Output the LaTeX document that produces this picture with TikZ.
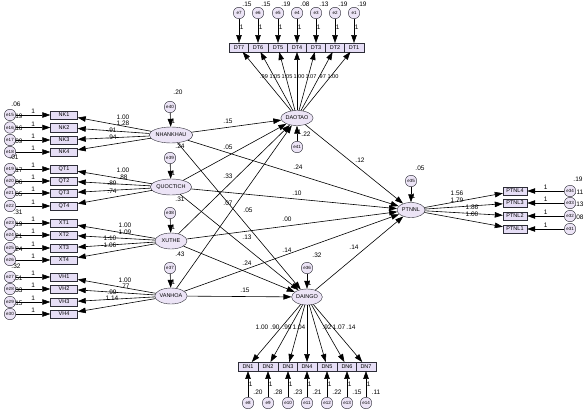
\documentclass[tikz,border=0pt]{standalone}
\usepackage{fontspec}
\setmainfont{Liberation Sans}
\usetikzlibrary{arrows.meta, shapes.geometric}

\definecolor{boxfill}{RGB}{230,222,246}
\definecolor{latfill}{RGB}{236,228,246}
\definecolor{edgegray}{RGB}{45,45,55}

\begin{document}
\begin{tikzpicture}[
    x=1pt, y=-1pt,
    lbl/.style={
        font=\fontsize{6.5}{7}\selectfont,
        inner sep=0pt
    },
    ind/.style={
        draw=edgegray,
        fill=boxfill,
        minimum width=27pt,
        minimum height=8.5pt,
        inner sep=0pt,
        font=\fontsize{5.5}{6}\selectfont
    },
    lat/.style={
        draw=edgegray,
        ellipse,
        fill=latfill,
        minimum width=32pt,
        minimum height=16pt,
        inner sep=0pt,
        font=\fontsize{5.5}{6}\selectfont
    },
    err/.style={
        draw=edgegray,
        circle,
        fill=latfill,
        minimum size=11.5pt,
        inner sep=0pt,
        font=\fontsize{4.5}{5}\selectfont
    },
    arr/.style={-{Triangle[length=8pt,width=5.5pt]}, line width=0.6pt}
]
\useasboundingbox (0,0) rectangle (585,414);

% Latent factors
\node[lat] (nhankhau) at (171,135) {NHANKHAU};
\node[lat] (quoctich) at (171,187) {QUOCTICH};
\node[lat] (xuthe) at (171,241) {XUTHE};
\node[lat] (vanhoa) at (171,296) {VANHOA};
\node[lat, minimum width=29pt, minimum height=15pt] (daotao) at (297,118) {DAOTAO};
\node[lat, minimum width=30pt] (daingo) at (307,297) {DAINGO};
\node[lat, minimum width=28pt, minimum height=15pt] (ptnnl) at (411,210) {PTNNL};

% Residuals of latent factors
\node[err] (e40) at (170,107) {e40};
\node[err] (e39) at (170,158) {e39};
\node[err] (e38) at (170,213) {e38};
\node[err] (e37) at (170,268) {e37};
\node[err] (e41) at (297,147) {e41};
\node[err] (e36) at (307,268) {e36};
\node[err] (e35) at (411,181) {e35};

\draw[arr] (e40) -- node[lbl, right=0.5pt, pos=.6]{1} (nhankhau);
\draw[arr] (e39) -- node[lbl, right=0.5pt, pos=.6]{1} (quoctich);
\draw[arr] (e38) -- node[lbl, right=0.5pt, pos=.6]{1} (xuthe);
\draw[arr] (e37) -- node[lbl, right=0.5pt, pos=.6]{1} (vanhoa);
\draw[arr] (e41) -- node[lbl, right=0.5pt, pos=.6]{1} (daotao);
\draw[arr] (e36) -- node[lbl, right=0.5pt, pos=.6]{1} (daingo);
\draw[arr] (e35) -- node[lbl, right=0.5pt, pos=.6]{1} (ptnnl);

% Left indicators
\foreach \nm/\lb/\en/\lt/\yy/\vv/\vx/\vy/\ld/\lx/\ly in {
    nk1/NK1/15/nhankhau/115/.19/18/116/1.00/123/117,
    nk2/NK2/16/nhankhau/127.5/.16/18/128.5/1.28/123/123,
    nk3/NK3/17/nhankhau/140/.09/18/141/.91/112/130,
    nk4/NK4/18/nhankhau/152/.01/14/157.5/.94/112/137,
    qt1/QT1/19/quoctich/169/.17/18/170/1.00/123/170,
    qt2/QT2/20/quoctich/181/.06/18/182/.88/123/177,
    qt3/QT3/21/quoctich/193/.05/18/194/.89/112/183,
    qt4/QT4/22/quoctich/206/.31/18/212/.74/112/191,
    xt1/XT1/23/xuthe/223/.19/18/224/1.00/125/225,
    xt2/XT2/24/xuthe/235/.21/18/236/1.09/125/232,
    xt3/XT3/25/xuthe/248/.24/18/249/1.10/110/238,
    xt4/XT4/26/xuthe/260/.32/16/266/1.06/110/245,
    vh1/VH1/27/vanhoa/277/.51/18/278/1.00/125/280,
    vh2/VH2/28/vanhoa/289/.33/18/290/.77/125/286,
    vh3/VH3/29/vanhoa/302/.15/18/303/.99/112/292,
    vh4/VH4/30/vanhoa/314//18/315/1.14/112/298}
{
    \node[ind] (\nm) at (64,\yy) {\lb};
    \node[err] (e\en) at (10,\yy) {e\en};
    \draw[arr] (e\en) -- node[lbl, above=1pt]{1} (\nm);
    \draw[arr] (\lt) -- (\nm);
    \node[lbl] (v\en) at (\vx,\vy) {\vv};
    \node[lbl] (l\nm) at (\lx,\ly) {\ld};
}
\node[lbl] (v15b) at (16,104) {.06};

% Top indicators
\foreach \nm/\lb/\en/\xx/\vv in {
    dt7/DT7/7/239/.15, dt6/DT6/6/258/.15, dt5/DT5/5/278/.19,
    dt4/DT4/4/297/.08, dt3/DT3/3/316/.13, dt2/DT2/2/335/.19,
    dt1/DT1/1/354/.19}
{
    \node[ind, minimum width=19.5pt] (\nm) at (\xx,47.5) {\lb};
    \node[err] (e\en) at (\xx,13) {e\en};
    \draw[arr] (e\en) -- node[lbl, right=0.5pt, pos=.35]{1} (\nm);
    \draw[arr] (daotao) -- (\nm);
    \node[lbl] (v\en) at (\xx+8,4) {\vv};
}
\foreach \ld/\lx [count=\i] in {.99/264, 1.05/275, 1.05/287, 1.00/299,
    1.07/311, .97/322, 1.00/333}
    \node[lbl, font=\fontsize{5.6}{6}\selectfont] (ldt\i) at (\lx,77) {\ld};

% Bottom indicators
\foreach \nm/\lb/\en/\xx/\vv in {
    dn1/DN1/8/248/.20, dn2/DN2/9/268/.28, dn3/DN3/10/288/.23,
    dn4/DN4/11/307/.21, dn5/DN5/12/327/.22, dn6/DN6/13/347/.15,
    dn7/DN7/14/366/.11}
{
    \node[ind, minimum width=19.5pt] (\nm) at (\xx,366.5) {\lb};
    \node[err] (e\en) at (\xx,403) {e\en};
    \draw[arr] (e\en) -- node[lbl, right=0.5pt, pos=.5]{1} (\nm);
    \draw[arr] (daingo) -- (\nm);
    \node[lbl] (v\en) at (\xx+10,392) {\vv};
}
\foreach \ld/\lx [count=\i] in {1.00/262, .90/275, .99/287, 1.04/299,
    .92/327, 1.07/339, .14/351}
    \node[lbl] (ldn\i) at (\lx,327) {\ld};

% Right indicators
\foreach \nm/\lb/\en/\yy/\vv/\ld/\lx/\ly in {
    ptnl4/PTNL4/34/191/.11/1.56/457/193,
    ptnl3/PTNL3/33/203/.13/1.79/457/200,
    ptnl2/PTNL2/32/216/.08/1.86/472/207,
    ptnl1/PTNL1/31/229//1.00/472/214}
{
    \node[ind, minimum width=24pt] (\nm) at (515,\yy) {\lb};
    \node[err] (e\en) at (570,\yy) {e\en};
    \draw[arr] (e\en) -- node[lbl, above=1pt]{1} (\nm);
    \draw[arr] (ptnnl) -- (\nm);
    \node[lbl] (v\en) at (579,\yy+1) {\vv};
    \node[lbl] (l\nm) at (\lx,\ly) {\ld};
}
\node[lbl] (v34b) at (578,179) {.19};

% Structural paths
\draw[arr] (nhankhau) -- (daotao);
\draw[arr] (nhankhau) -- (ptnnl);
\draw[arr] (nhankhau) -- (daingo);
\draw[arr] (quoctich) -- (daotao);
\draw[arr] (quoctich) -- (ptnnl);
\draw[arr] (quoctich) -- (daingo);
\draw[arr] (xuthe) -- (daotao);
\draw[arr] (xuthe) -- (ptnnl);
\draw[arr] (xuthe) -- (daingo);
\draw[arr] (vanhoa) -- (daotao);
\draw[arr] (vanhoa) -- (ptnnl);
\draw[arr] (vanhoa) -- (daingo);
\draw[arr] (daotao) -- (ptnnl);
\draw[arr] (daingo) -- (ptnnl);

% Estimates
\foreach \vv/\px/\py [count=\i] in {
    .15/228/121, .05/228/147, .24/298/167, .24/180/146, .33/228/176,
    .10/297/193, .31/180/199, .07/228/203, .05/248/210, .00/287/219,
    .13/247/237, .43/180/254, .14/287/250, .24/247/263, .15/245/290,
    .14/354/247, .12/360/160, .22/306/134, .32/317/255, .05/420/168,
    .20/178/92}
    \node[lbl] (est\i) at (\px,\py) {\vv};

\end{tikzpicture}
\end{document}
